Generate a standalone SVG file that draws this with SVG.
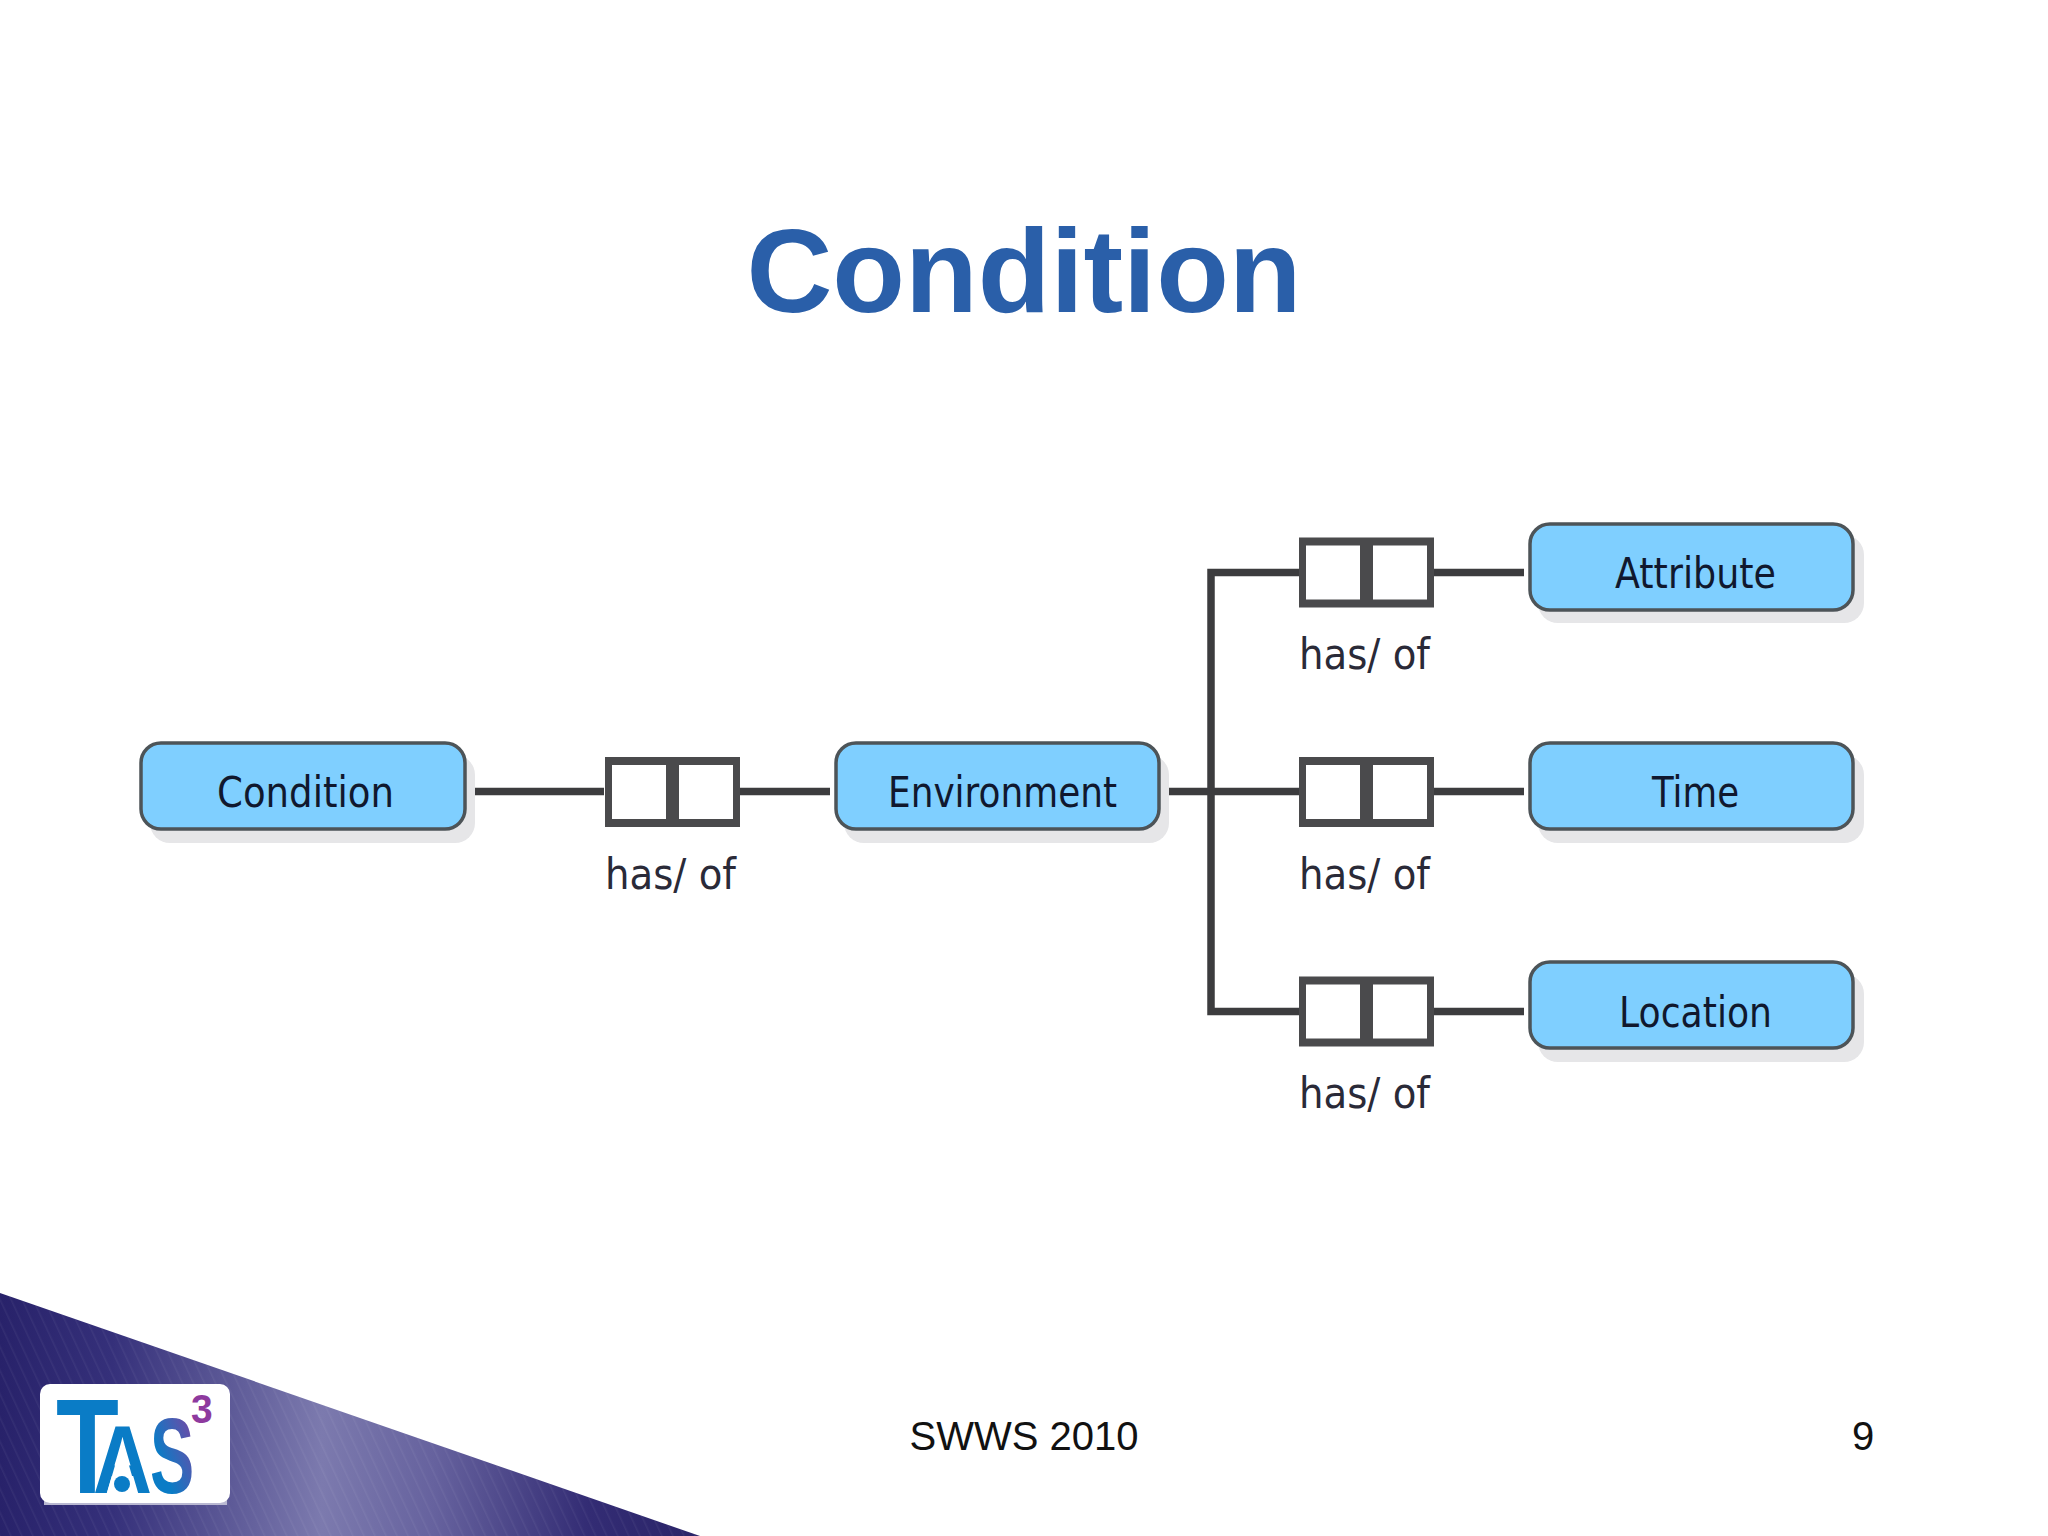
<svg xmlns="http://www.w3.org/2000/svg" width="2048" height="1536" viewBox="0 0 2048 1536">
<style>
.node{fill:#7fcfff;stroke:#4d5458;stroke-width:3.500}
.shadow{fill:#e6e6e8}
.nt{font-family:"DejaVu Sans",sans-serif;font-size:43px;fill:#10182e}
.lb{font-family:"DejaVu Sans",sans-serif;font-size:42px;fill:#2a2a38}
.ln{fill:none;stroke:#3c3c3e;stroke-width:7.500}
.bx{fill:#4a4a4c}
.in{fill:#fff}
.ft{font-family:"Liberation Sans",Arial,sans-serif;font-size:40px;fill:#111}
.lg{font-family:"Liberation Sans",Arial,sans-serif;font-weight:700}
</style>
<defs>
<linearGradient id="tri" x1="0" y1="0" x2="1" y2="0">
<stop offset="0" stop-color="#28226a"/><stop offset="0.16" stop-color="#35307a"/><stop offset="0.46" stop-color="#7c7aae"/><stop offset="0.62" stop-color="#66629e"/><stop offset="0.84" stop-color="#332c74"/><stop offset="1" stop-color="#2a2468"/>
</linearGradient>
<linearGradient id="sg" x1="0" y1="1" x2="1" y2="0"><stop offset="0.35" stop-color="#0a7cc6"/><stop offset="1" stop-color="#8a3c9e"/></linearGradient>
<pattern id="st" width="10" height="20" patternUnits="userSpaceOnUse" patternTransform="rotate(-25)"><rect width="1.500" height="20" fill="#fff" fill-opacity="0.05"/></pattern>
<g id="rel"><rect class="bx" x="0" y="0" width="135" height="70"/><rect class="in" x="7" y="8" width="54" height="54"/><rect class="in" x="74" y="8" width="54" height="54"/></g>
</defs>
<rect width="2048" height="1536" fill="#fff"/>
<text x="1024" y="312" text-anchor="middle" font-family="'Liberation Sans',Arial,sans-serif" font-weight="700" font-size="119" fill="#2a5fa9">Condition</text>
<g id="corner">
<polygon points="0,1293 700,1536 0,1536" fill="url(#tri)"/>
<polygon points="0,1293 700,1536 0,1536" fill="url(#st)"/>
</g>
<g id="logo">
<rect x="44" y="1500" width="183" height="5" fill="#b9b8d2"/>
<rect x="40" y="1384" width="190" height="119" rx="10" fill="#fff"/>
<text class="lg" transform="translate(56,1493) scale(1.03,1.36)" font-size="100" fill="#0a7cc6">T</text>
<text class="lg" transform="translate(93,1493) scale(.86,1.02)" font-size="95" fill="#0a7cc6">A</text>
<polygon points="107,1493 137,1493 128,1462 116,1462" fill="#fff"/>
<circle cx="122" cy="1484" r="8" fill="#0a7cc6"/>
<text class="lg" transform="translate(150,1493) scale(.72,1.16)" font-size="92" fill="url(#sg)">S</text>
<text class="lg" transform="translate(191,1423) scale(1,1.05)" font-size="39" fill="#8e3a9e">3</text>
</g>
<g id="connectors">
<path class="ln" d="M472 791.500H604M739 791.500H830M1166 791.500H1299M1433 791.500H1524M1299 572.500H1211V1011.500H1299M1433 572.500H1524M1433 1011.500H1524"/>
</g>
<g id="rel-1"><use href="#rel" x="605" y="757"/><text class="lb" x="605" y="889" textLength="131" lengthAdjust="spacingAndGlyphs">has/ of</text></g>
<g id="rel-2"><use href="#rel" x="1299" y="537.500"/><text class="lb" x="1299" y="669" textLength="131" lengthAdjust="spacingAndGlyphs">has/ of</text></g>
<g id="rel-3"><use href="#rel" x="1299" y="757"/><text class="lb" x="1299" y="889" textLength="131" lengthAdjust="spacingAndGlyphs">has/ of</text></g>
<g id="rel-4"><use href="#rel" x="1299" y="976.500"/><text class="lb" x="1299" y="1108" textLength="131" lengthAdjust="spacingAndGlyphs">has/ of</text></g>
<g id="node-condition"><rect class="shadow" x="150" y="755" width="325" height="88" rx="20"/><rect class="node" x="141" y="743" width="324" height="86" rx="20"/><text class="nt" x="217" y="807" textLength="177" lengthAdjust="spacingAndGlyphs">Condition</text></g>
<g id="node-environment"><rect class="shadow" x="844" y="755" width="325" height="88" rx="20"/><rect class="node" x="836" y="743" width="323" height="86" rx="20"/><text class="nt" x="888" y="807" textLength="229" lengthAdjust="spacingAndGlyphs">Environment</text></g>
<g id="node-attribute"><rect class="shadow" x="1538" y="535" width="326" height="88" rx="20"/><rect class="node" x="1530" y="524" width="323" height="86" rx="20"/><text class="nt" x="1615" y="588" textLength="161" lengthAdjust="spacingAndGlyphs">Attribute</text></g>
<g id="node-time"><rect class="shadow" x="1538" y="755" width="326" height="88" rx="20"/><rect class="node" x="1530" y="743" width="323" height="86" rx="20"/><text class="nt" x="1652" y="807" textLength="87" lengthAdjust="spacingAndGlyphs">Time</text></g>
<g id="node-location"><rect class="shadow" x="1538" y="974" width="326" height="88" rx="20"/><rect class="node" x="1530" y="962" width="323" height="86" rx="20"/><text class="nt" x="1619" y="1027" textLength="153" lengthAdjust="spacingAndGlyphs">Location</text></g>
<text class="ft" x="1024" y="1450" text-anchor="middle">SWWS 2010</text>
<text class="ft" x="1863" y="1450" text-anchor="middle">9</text>
</svg>
